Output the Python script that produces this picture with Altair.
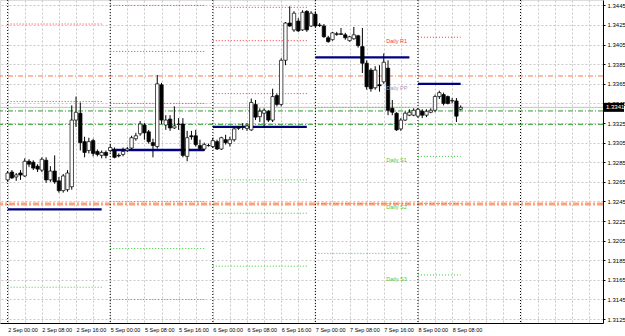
import altair as alt
import pandas as pd

# ---------------- data ----------------
days = ["2 Sep", "5 Sep", "6 Sep", "7 Sep", "8 Sep"]

opens = [
    1.3267, 1.3275, 1.3270, 1.3274, 1.3271, 1.3286, 1.3285, 1.3281, 1.3277, 1.3287, 1.3267, 1.3276,
    1.3266, 1.3256, 1.3257, 1.3260, 1.3328, 1.3335, 1.3306, 1.3297, 1.3307, 1.3296, 1.3292, 1.3295,
    1.3297, 1.3297, 1.3292, 1.3293, 1.3297, 1.32995, 1.3309, 1.3314, 1.3323, 1.3316, 1.3305, 1.3301,
    1.3364, 1.3323, 1.3329, 1.3320, 1.33235, 1.3324, 1.3291, 1.3312, 1.3312, 1.3302, 1.32985, 1.3302,
    1.3301, 1.3306, 1.32985, 1.3308, 1.3304, 1.3308, 1.33196, 1.33205, 1.33195, 1.3318, 1.3344, 1.33315,
    1.3335, 1.3337, 1.3328, 1.3353, 1.3344, 1.3389, 1.3427, 1.3420, 1.3429, 1.3420, 1.3439, 1.3424,
    1.3436, 1.3425, 1.3424, 1.3412, 1.3410, 1.3416, 1.3416, 1.3415, 1.3409, 1.3411, 1.3414, 1.3403,
    1.3386, 1.3379, 1.3361, 1.3364, 1.3367, 1.3381, 1.3340, 1.3335, 1.3319, 1.3328, 1.3333, 1.3333,
    1.3332, 1.3337, 1.3333, 1.3336, 1.3338, 1.3352, 1.3354, 1.3352, 1.33475, 1.33475, 1.3339,
]
highs = [
    1.3276, 1.3277, 1.3274, 1.3277, 1.3289, 1.3288, 1.3287, 1.3283, 1.3290, 1.3290, 1.3281, 1.3292,
    1.3270, 1.3273, 1.3277, 1.3343, 1.3352, 1.3346, 1.3311, 1.3310, 1.3309, 1.3298, 1.3297, 1.3297,
    1.3303, 1.3300, 1.3294, 1.3300, 1.33005, 1.3312, 1.3315, 1.3327, 1.3325, 1.3318, 1.3309, 1.3374,
    1.3366, 1.3333, 1.3333, 1.3342, 1.3330, 1.3330, 1.3317, 1.3317, 1.3318, 1.3308, 1.3305, 1.3304,
    1.3310, 1.3308, 1.3311, 1.3313, 1.3311, 1.3321, 1.3322, 1.3325, 1.3325, 1.3350, 1.33485, 1.3340,
    1.3340, 1.3338, 1.3360, 1.3355, 1.3391, 1.3428, 1.3444, 1.3439, 1.3432, 1.3440, 1.3440, 1.3439,
    1.3439, 1.3427, 1.3426, 1.3414, 1.3418, 1.3418, 1.3422, 1.3417, 1.3414, 1.3423, 1.3415, 1.3422,
    1.3389, 1.3381, 1.3383, 1.3384, 1.3396, 1.3389, 1.33485, 1.3336, 1.3330, 1.3337, 1.3339, 1.3340,
    1.3340, 1.3339, 1.3339, 1.3340, 1.3354, 1.3358, 1.3356, 1.3353, 1.33505, 1.33505, 1.3343,
]
lows = [
    1.3265, 1.3268, 1.3266, 1.3267, 1.3270, 1.3280, 1.3277, 1.3275, 1.3275, 1.3264, 1.3265, 1.3263,
    1.3254, 1.3254, 1.3255, 1.3257, 1.3321, 1.3297, 1.3290, 1.3294, 1.3291, 1.3291, 1.3289, 1.3289,
    1.3295, 1.3289, 1.3290, 1.3291, 1.32955, 1.32975, 1.3307, 1.3312, 1.3308, 1.3304, 1.3290, 1.3299,
    1.3324, 1.3318, 1.3317, 1.3319, 1.3318, 1.3290, 1.3286, 1.3308, 1.3301, 1.32975, 1.32965, 1.3301,
    1.32995, 1.32975, 1.32975, 1.3303, 1.3301, 1.3306, 1.3318, 1.3318, 1.3317, 1.3317, 1.3328, 1.3326,
    1.3320, 1.3326, 1.3326, 1.3342, 1.3342, 1.3384, 1.3423, 1.3418, 1.3418, 1.3419, 1.3418, 1.3423,
    1.3423, 1.3423, 1.3412, 1.3407, 1.3409, 1.3414, 1.3415, 1.3410, 1.3408, 1.3410, 1.3402, 1.3376,
    1.3359, 1.3357, 1.3359, 1.3357, 1.3365, 1.3333, 1.3333, 1.3317, 1.3317, 1.3327, 1.3332, 1.3332,
    1.3331, 1.3330, 1.3331, 1.3335, 1.3336, 1.33495, 1.3343, 1.3344, 1.3345, 1.3326, 1.3338,
]
closes = [
    1.3274, 1.3269, 1.3272, 1.3272, 1.3286, 1.3283, 1.3279, 1.3278, 1.3288, 1.3267, 1.3276, 1.3265,
    1.3256, 1.3271, 1.3274, 1.3328, 1.3336, 1.3305, 1.3295, 1.3306, 1.3294, 1.3293, 1.3295, 1.3292,
    1.3300, 1.3290, 1.32915, 1.3296, 1.32985, 1.3310, 1.3312, 1.3324, 1.3315, 1.3306, 1.3302, 1.3365,
    1.3328, 1.3328, 1.3320, 1.3322, 1.3324, 1.3292, 1.3310, 1.3311, 1.3303, 1.3299, 1.3303, 1.3302,
    1.3307, 1.32985, 1.3310, 1.3305, 1.3308, 1.3319, 1.3320, 1.3321, 1.3322, 1.3346, 1.3331, 1.3337,
    1.3338, 1.3328, 1.3352, 1.3344, 1.3389, 1.3427, 1.3424, 1.3437, 1.3419, 1.3438, 1.3420, 1.3437,
    1.3424, 1.34245, 1.3413, 1.3408, 1.3417, 1.34155, 1.34155, 1.3412, 1.3413, 1.3415, 1.3404, 1.3386,
    1.3362, 1.3360, 1.3379, 1.3363, 1.3387, 1.3338, 1.3336, 1.3318, 1.3328, 1.3335, 1.3336, 1.3338,
    1.3339, 1.3333, 1.3337, 1.3338, 1.3352, 1.3356, 1.3345, 1.3345, 1.3348, 1.3332, 1.3341,
]
hours = list(range(len(opens)))

# daily pivot segments (trading-hour index of start / end of each day)
seg_start = [0, 24, 48, 72, 96]
seg_end = [22, 46, 70, 94, 106]
r_levels = [[1.3426, 1.3347], [1.3445, 1.3398, 1.3345], [1.3443, 1.3409, 1.3355], [], [1.34125]]
pp_levels = [1.3237, 1.32975, 1.3321, 1.3392, 1.3365]
s_levels = [[1.31575], [1.3245, 1.3197, 1.3145], [1.3267, 1.3233, 1.3179],
            [1.3341, 1.3243, 1.3192], [1.3291, 1.3243, 1.3170]]

# long horizontal levels
orange_level = [1.3373]
green_levels = [1.33373, 1.33237]
salmon_level = [1.32424]
bid_price = 1.3341

label_names = ["Daily R1", "Daily PP", "Daily S1", "Daily S2", "Daily S3"]
label_prices = [1.34125, 1.3365, 1.3291, 1.3243, 1.3170]
label_colors = ["#ff3333", "#9a9ab8", "#44c944", "#44c944", "#44c944"]
label_hour = 88.6

day_breaks = [0, 24, 48, 72, 96, 120]

# ---------------- build tables ----------------
candles = pd.DataFrame({"h": hours, "o": opens, "hi": highs, "lo": lows, "c": closes})
candles["bull"] = candles["c"] >= candles["o"]


def seg_table(levels_per_day):
    rows = []
    for i, lv in enumerate(levels_per_day):
        for p in lv:
            rows.append({"x0": seg_start[i], "x1": seg_end[i], "p": p})
    return pd.DataFrame(rows)


r_df = seg_table(r_levels)
pp_df = seg_table([[p] for p in pp_levels])
s_df = seg_table(s_levels)
labels_df = pd.DataFrame({"t": label_names, "p": label_prices, "col": label_colors, "h": label_hour})

W, H = 603, 323
xscale = alt.Scale(domain=[-0.62, 138.13], nice=False, zero=False)
yscale = alt.Scale(domain=[1.31210, 1.34505], nice=False, zero=False)

days_js = "[" + ",".join("'%s'" % d for d in days) + "]"
label_expr = (
    "(datum.value % 8 == 0 && datum.value <= 104) ? " + days_js +
    "[floor(datum.value/24)] + ' ' + (datum.value % 24 < 10 ? '0' : '') + (datum.value % 24) + ':00' : ''"
)

x_axis = alt.Axis(
    orient="bottom", values=list(range(0, 137, 4)), grid=True, gridColor="#c8c8c8",
    gridDash=[2, 2], ticks=False, labelExpr=label_expr, labelAlign="left",
    labelBaseline="top", labelPadding=4, labelFontSize=5.5, labelColor="black",
    labelOverlap=False, labelFlush=False, labelBound=False, domainColor="black",
    title=None,
)
y_axis = alt.Axis(
    orient="right", values=[round(1.3125 + 0.002 * k, 4) for k in range(17)], format=".4f",
    grid=True, gridColor="#c8c8c8", gridDash=[2, 2], tickSize=2, tickColor="black",
    labelPadding=2, labelFontSize=6, labelColor="black", labelOverlap=False,
    domainColor="black", title=None,
)

X = lambda f: alt.X(f, type="quantitative", scale=xscale, axis=x_axis)
Y = lambda f: alt.Y(f, type="quantitative", scale=yscale, axis=y_axis)

base = alt.Chart(candles)

wicks = base.mark_rule(color="black", strokeWidth=1).encode(x=X("h"), y=Y("lo"), y2="hi")
bodies = base.mark_bar(size=3.4, stroke="black", strokeWidth=0.7).encode(
    x=X("h"), y=Y("o"), y2="c",
    fill=alt.condition(alt.datum.bull, alt.value("white"), alt.value("black")),
)

day_df = pd.DataFrame({"h": day_breaks})
day_lines = alt.Chart(day_df).mark_rule(color="black", strokeDash=[1, 2], strokeWidth=1).encode(x=X("h"))

orange = alt.Chart(pd.DataFrame({"p": orange_level})).mark_rule(
    color="#ff7744", strokeDash=[5, 2, 1, 2], strokeWidth=1).encode(y=Y("p"))
greens = alt.Chart(pd.DataFrame({"p": green_levels})).mark_rule(
    color="#2a9d2a", strokeDash=[5, 2, 1, 2], strokeWidth=1).encode(y=Y("p"))
salmon = alt.Chart(pd.DataFrame({"p": salmon_level})).mark_rule(
    color="#ffa07a", strokeDash=[6, 2, 2, 2], strokeWidth=3).encode(y=Y("p"))
bid = alt.Chart(pd.DataFrame({"p": [bid_price]})).mark_rule(
    color="#c0c0c0", strokeWidth=1).encode(y=Y("p"))

r_lines = alt.Chart(r_df).mark_rule(color="#ff3333", strokeDash=[1, 2], strokeWidth=1).encode(
    x=X("x0"), x2="x1", y=Y("p"))
s_lines = alt.Chart(s_df).mark_rule(color="#33cc33", strokeDash=[1, 2], strokeWidth=1).encode(
    x=X("x0"), x2="x1", y=Y("p"))
pp_lines = alt.Chart(pp_df).mark_rule(color="#000080", strokeWidth=2.3).encode(
    x=X("x0"), x2="x1", y=Y("p"))

texts = alt.Chart(labels_df).mark_text(align="left", baseline="middle", dy=4, fontSize=5.5).encode(
    x=X("h"), y=Y("p"), text="t:N", color=alt.Color("col:N", scale=None))

box = alt.Chart(pd.DataFrame({"p": [bid_price]})).mark_rule(color="black", strokeWidth=9).encode(
    x=alt.value(W), x2=alt.value(W + 21), y=Y("p"))
box_text = alt.Chart(pd.DataFrame({"p": [bid_price], "t": ["1.3341"]})).mark_text(
    align="left", baseline="middle", color="white", fontSize=6).encode(
    x=alt.value(W + 3), y=Y("p"), text="t:N")

chart = alt.layer(
    orange, greens, salmon, bid, day_lines, r_lines, s_lines, pp_lines,
    wicks, bodies, texts, box, box_text,
).properties(
    width=W, height=H,
    padding={"left": 0, "top": 0, "right": 22, "bottom": 13},
    autosize=alt.AutoSizeParams(type="none"),
    background="white",
).configure_view(stroke=None).configure(font="Liberation Sans")

chart.save("out.html", embed_options={"renderer": "svg", "actions": False})
